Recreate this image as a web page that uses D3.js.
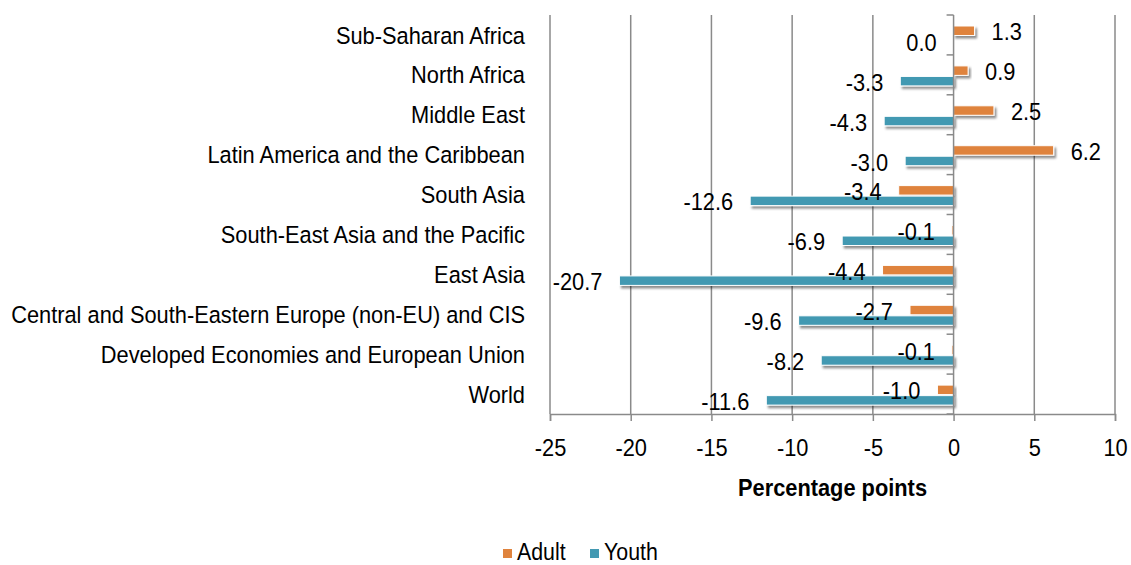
<!DOCTYPE html>
<html><head><meta charset="utf-8">
<script src="https://cdn.jsdelivr.net/npm/d3@7"></script>
<style>
html,body{margin:0;padding:0;background:#fff;}
text{font-family:"Liberation Sans",Arial,sans-serif;fill:#000;}
</style></head>
<body>
<svg id="chart" width="1131" height="565"></svg>
<script>
const categories = ["Sub-Saharan Africa","North Africa","Middle East","Latin America and the Caribbean","South Asia","South-East Asia and the Pacific","East Asia","Central and South-Eastern Europe (non-EU) and CIS","Developed Economies and European Union","World"];
const adult = [1.3, 0.9, 2.5, 6.2, -3.4, -0.1, -4.4, -2.7, -0.1, -1.0];
const youth = [0.0, -3.3, -4.3, -3.0, -12.6, -6.9, -20.7, -9.6, -8.2, -11.6];
const seriesNames = ["Adult","Youth"];
const seriesColors = ["#DF833D","#4399B2"];
const xTicks = [-25,-20,-15,-10,-5,0,5,10];
const axisTitle = "Percentage points";

(function(){
const svg = d3.select("#chart");
const pL = 550, pR = 1115, pT = 15, pB = 414;
const FS = 24.5, SX = 0.89;
const x = d3.scaleLinear().domain([-25,10]).range([pL,pR]);
const y = d3.scaleBand().domain(categories).range([pT,pB]).padding(0);
const ys = d3.scaleBand().domain(seriesNames).range([11, 31]).paddingInner(0.1);
const color = d3.scaleOrdinal().domain(seriesNames).range(seriesColors);

function label(parent, tx, ty, str, anchor, bold, fs){
  return parent.append("text")
    .attr("transform",`translate(${tx},${ty}) scale(${SX},1)`)
    .attr("dy","0.35em").attr("text-anchor",anchor||"start")
    .attr("font-size",fs||FS).attr("font-weight",bold?"bold":"normal").text(str);
}

const defs = svg.append("defs");
const f = defs.append("filter").attr("id","sh").attr("x","-10%").attr("y","-50%").attr("width","130%").attr("height","250%");
f.append("feDropShadow").attr("dx",2).attr("dy",2.5).attr("stdDeviation",1.3).attr("flood-color","#000").attr("flood-opacity",0.45);

// gridlines
svg.append("g").selectAll("line").data(xTicks.filter(d=>d!==0)).join("line")
  .attr("x1",d=>x(d)).attr("x2",d=>x(d)).attr("y1",pT).attr("y2",pB)
  .attr("stroke","#8a8a8a").attr("stroke-width",1.5);

// bottom axis
const xa = svg.append("g").attr("transform",`translate(0,${pB})`)
  .call(d3.axisBottom(x).tickValues(xTicks).tickSize(7).tickPadding(0).tickFormat(d=>String(d)));
xa.select(".domain").attr("stroke","#8a8a8a").attr("stroke-width",1.5);
xa.selectAll(".tick line").attr("stroke","#8a8a8a").attr("stroke-width",1.5);
xa.selectAll(".tick text").attr("font-size",FS).attr("font-family","Liberation Sans, Arial, sans-serif")
  .attr("fill","#000").attr("y",33).attr("dy","0.35em").attr("transform",`scale(${SX},1)`);

// category labels
const cg = svg.append("g");
categories.forEach(c=>label(cg, 525, y(c)+y.bandwidth()/2, c, "end"));

// bars
const rows = [];
categories.forEach((c,i)=>{ rows.push({c, s:"Adult", v:adult[i]}); rows.push({c, s:"Youth", v:youth[i]}); });
svg.append("g").selectAll("rect").data(rows.filter(d=>d.v!==0)).join("rect")
  .attr("x",d=>x(Math.min(0,d.v))).attr("width",d=>Math.abs(x(d.v)-x(0)))
  .attr("y",d=>y(d.c)+ys(d.s)).attr("height",ys.bandwidth())
  .attr("fill",d=>color(d.s)).attr("stroke","#fff").attr("stroke-width",1)
  .attr("filter","url(#sh)");

// vertical zero axis
const ya = svg.append("g").attr("transform",`translate(${x(0)},0)`);
ya.append("line").attr("x1",0).attr("x2",0).attr("y1",pT).attr("y2",pB)
  .attr("stroke","#8a8a8a").attr("stroke-width",1.5);
ya.selectAll(".b").data(d3.range(categories.length+1)).join("line").attr("class","b")
  .attr("x1",-7).attr("x2",0).attr("y1",i=>pT+i*y.step()).attr("y2",i=>pT+i*y.step())
  .attr("stroke","#8a8a8a").attr("stroke-width",1.5);

// value labels
const vg = svg.append("g");
rows.forEach(d=>{
  label(vg, d.v>0 ? x(d.v)+17 : x(d.v)-17, y(d.c)+ys(d.s)+ys.bandwidth()/2+1,
        d.v.toFixed(1), d.v>0?"start":"end");
});

// axis title
label(svg, (pL+pR)/2, 487, axisTitle, "middle", true);

// legend
const lg = svg.append("g");
const legX = [503, 590];
seriesNames.forEach((s,i)=>{
  lg.append("rect").attr("x",legX[i]).attr("y",549).attr("width",9).attr("height",9).attr("fill",color(s));
  label(lg, legX[i]+14, 552, s, "start", false, 24);
});
})();
</script>
</body></html>
